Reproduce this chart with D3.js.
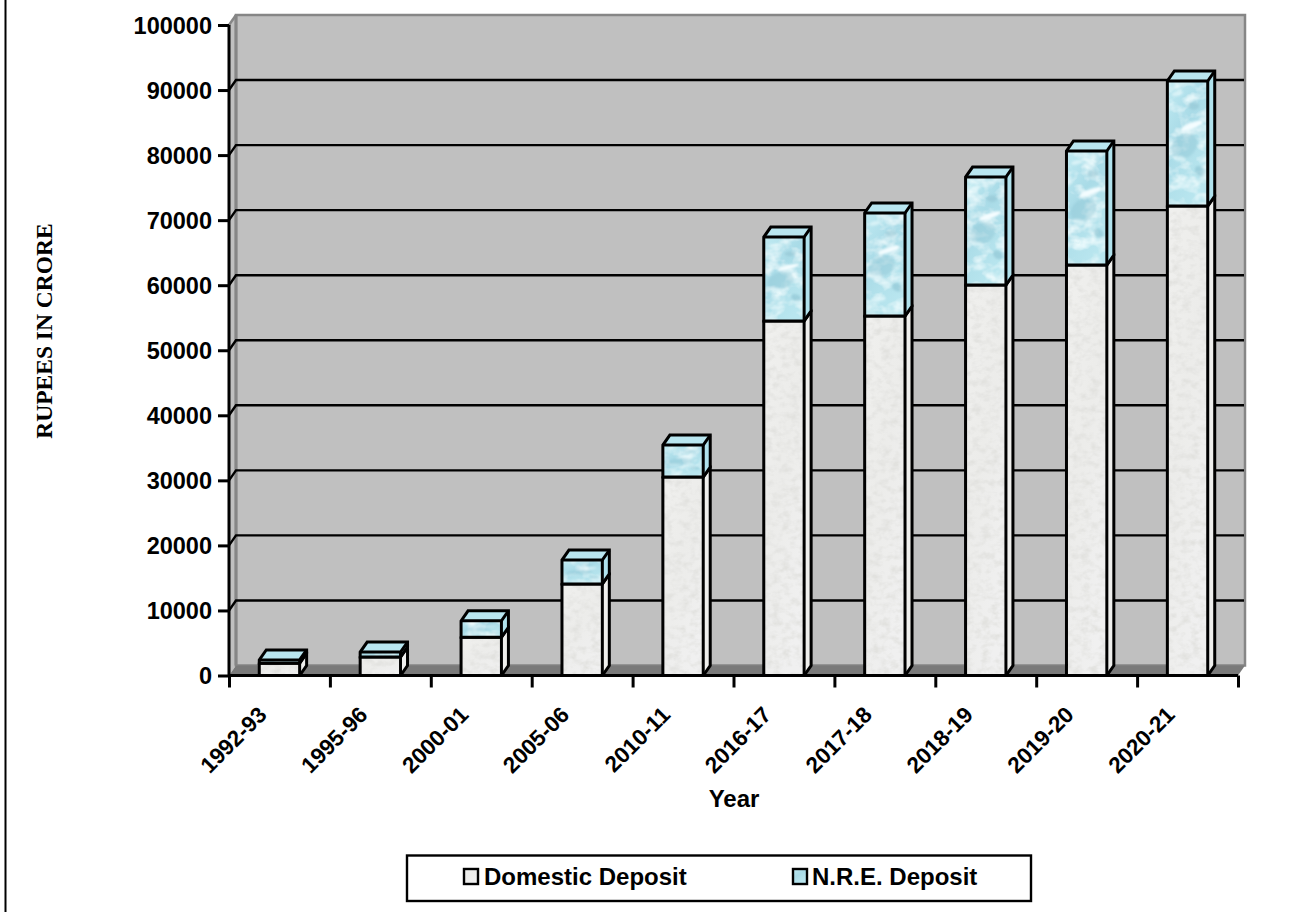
<!DOCTYPE html>
<html>
<head>
<meta charset="utf-8">
<script src="https://cdn.jsdelivr.net/npm/d3@7"></script>
<style>
  html, body { margin: 0; padding: 0; background: #fff; }
  svg { display: block; }
  text { font-family: "Liberation Sans", Arial, sans-serif; font-weight: bold; fill: #000; }
</style>
</head>
<body>
<svg id="chart" width="1307" height="912"></svg>
<script>
// Deposits in rupees crore, by financial year
const years = ["1992-93","1995-96","2000-01","2005-06","2010-11","2016-17","2017-18","2018-19","2019-20","2020-21"];
const domesticDeposit = [1900, 2850, 5870, 14070, 30500, 54500, 55260, 60030, 63100, 72170];
const nreDeposit = [500, 750, 2530, 3680, 4930, 12900, 15840, 16600, 17530, 19220];
const seriesNames = ["Domestic Deposit", "N.R.E. Deposit"];
const valueTicks = [0, 10000, 20000, 30000, 40000, 50000, 60000, 70000, 80000, 90000, 100000];
const yTitle = "RUPEES IN CRORE";
const xTitle = "Year";

const svg = d3.select("#chart");
const depthX = 7, depthY = 10;
const plot = { left: 229, right: 1238, top: 25, bottom: 675.5 };

const y = d3.scaleLinear().domain([0, 100000]).range([plot.bottom, plot.top]);
const x = d3.scaleBand().domain(years).range([plot.left, plot.right]).paddingInner(0.6).paddingOuter(0.3);
const slotEdge = d3.scaleLinear().domain([0, years.length]).range([plot.left, plot.right]);

// Bar face materials: soft stone and water droplets
const defs = svg.append("defs");

const grad = (id, stops) => {
  const g = defs.append("linearGradient").attr("id", id)
    .attr("x1", 0).attr("y1", 0).attr("x2", 0.6).attr("y2", 1);
  stops.forEach(([o, c]) => g.append("stop").attr("offset", o).attr("stop-color", c));
};
grad("stoneFace", [[0, "#f0f0ee"], [0.5, "#ececea"], [1, "#f0f0f0"]]);
grad("waterFace", [[0, "#c0eaf2"], [0.45, "#a9dbe7"], [0.7, "#b2e1eb"], [1, "#b9e6ef"]]);

const noise = (id, freq, seed, alpha, colour) => {
  const f = defs.append("filter").attr("id", id)
    .attr("x", 0).attr("y", 0).attr("width", 1).attr("height", 1);
  f.append("feTurbulence").attr("type", "fractalNoise").attr("baseFrequency", freq)
    .attr("numOctaves", 3).attr("seed", seed).attr("result", "n");
  f.append("feColorMatrix").attr("in", "n").attr("type", "matrix")
    .attr("values", `0 0 0 0 ${colour[0]} 0 0 0 0 ${colour[1]} 0 0 0 0 ${colour[2]} ${alpha} 0 0 0 ${-alpha * 0.42}`)
    .attr("result", "tint");
  f.append("feComposite").attr("in", "tint").attr("in2", "SourceGraphic").attr("operator", "in").attr("result", "clip");
  const m = f.append("feMerge");
  m.append("feMergeNode").attr("in", "SourceGraphic");
  m.append("feMergeNode").attr("in", "clip");
};
noise("stoneGrain", "0.11 0.15", 4, 2.6, [0.76, 0.76, 0.74]);
noise("waterGrain", "0.06 0.08", 9, 2.2, [0.88, 0.98, 0.99]);

defs.append("filter").attr("id", "dropSoften")
  .attr("x", 0).attr("y", 0).attr("width", 1).attr("height", 1)
  .append("feGaussianBlur").attr("stdDeviation", 0.9);

// Droplets are laid out in the bar's own unit box, so they stretch with the face
const drops = defs.append("pattern").attr("id", "waterDrops")
  .attr("patternUnits", "objectBoundingBox").attr("patternContentUnits", "objectBoundingBox")
  .attr("width", 1).attr("height", 1);
[[0.42, 0.52, 0.32, 0.10, -5, "#8cc2d2", 0.4],
 [0.60, 0.36, 0.27, 0.028, -7, "#f4fdff", 1],
 [0.65, 0.20, 0.14, 0.03, 0, "#8fc2d0", 0.5],
 [0.30, 0.62, 0.16, 0.02, 3, "#e6f8fb", 0.7],
 [0.80, 0.72, 0.12, 0.04, 6, "#84bccb", 0.5],
 [0.35, 0.84, 0.18, 0.02, -3, "#e6f8fb", 0.6],
 [0.25, 0.10, 0.14, 0.02, -4, "#e6f8fb", 0.7]
].forEach(([cx, cy, rx, ry, a, c, o]) => {
  drops.append("ellipse").attr("cx", cx).attr("cy", cy).attr("rx", rx).attr("ry", ry)
    .attr("fill", c).attr("opacity", o)
    .attr("transform", `rotate(${a} ${cx} ${cy})`);
});

// Chart walls and floor
const backTop = plot.top - depthY, backBottom = plot.bottom - depthY;
const walls = svg.append("g");
const polyline = (pts) => d3.line()(pts) + "Z";

walls.append("path")
  .attr("d", polyline([[plot.left, plot.top], [plot.left + depthX, backTop], [plot.left + depthX, backBottom], [plot.left, plot.bottom]]))
  .attr("fill", "#c0c0c0");
walls.append("rect")
  .attr("x", plot.left + depthX).attr("y", backTop)
  .attr("width", plot.right - plot.left).attr("height", backBottom - backTop)
  .attr("fill", "#c0c0c0").attr("stroke", "#868686").attr("stroke-width", 2.5);
walls.append("path")
  .attr("d", polyline([[plot.left, plot.bottom], [plot.left + depthX, backBottom], [plot.right + depthX, backBottom], [plot.right, plot.bottom]]))
  .attr("fill", "#7a7a7a");
walls.append("path")
  .attr("d", d3.line()([[plot.left + depthX, backTop], [plot.left + depthX, backBottom]]))
  .attr("stroke", "#868686").attr("stroke-width", 3);
walls.append("path")
  .attr("d", d3.line()([[plot.left, plot.top], [plot.left + depthX, backTop]]))
  .attr("stroke", "#868686").attr("stroke-width", 2.5);

// Gridlines run along the back wall and fold down the side wall
const grid = svg.append("g").attr("fill", "none").attr("stroke", "#000").attr("stroke-width", 2.4);
valueTicks.filter(v => v > 0 && v < 100000).forEach(v => {
  grid.append("path").attr("d", d3.line()([
    [plot.left, y(v)], [plot.left + depthX, y(v) - depthY], [plot.right + depthX - 1, y(v) - depthY]
  ]));
});

// Stacked 3D bars
const stacked = d3.stack().keys([0, 1]).value((d, k) => d[k])(years.map((_, i) => [domesticDeposit[i], nreDeposit[i]]));
const styles = [
  { face: "url(#stoneFace)", grain: "url(#stoneGrain)", top: "#efefed", side: "#efefed", overlay: null },
  { face: "url(#waterFace)", grain: "url(#waterGrain)", top: "#b9e6f0", side: "#b0e2ed", overlay: "url(#waterDrops)" }
];
const strokeWidth = 3;
const bars = svg.append("g");
years.forEach((yr, i) => {
  const bx = x(yr), bw = x.bandwidth();
  stacked.forEach((layer, s) => {
    const st = styles[s];
    const y0 = y(layer[i][0]), y1 = y(layer[i][1]);
    const g = bars.append("g");
    g.append("rect").attr("x", bx).attr("y", y1).attr("width", bw).attr("height", y0 - y1)
      .attr("fill", st.face).attr("filter", st.grain);
    if (st.overlay) {
      g.append("rect").attr("x", bx).attr("y", y1).attr("width", bw).attr("height", y0 - y1)
        .attr("fill", st.overlay).attr("filter", "url(#dropSoften)");
    }
    g.append("path")
      .attr("d", polyline([[bx + bw, y1], [bx + bw + depthX, y1 - depthY], [bx + bw + depthX, y0 - depthY], [bx + bw, y0]]))
      .attr("fill", st.side);
    g.append("path")
      .attr("d", polyline([[bx, y1], [bx + depthX, y1 - depthY], [bx + bw + depthX, y1 - depthY], [bx + bw, y1]]))
      .attr("fill", st.top);
    g.append("path")
      .attr("d", polyline([[bx, y0], [bx, y1], [bx + depthX, y1 - depthY], [bx + bw + depthX, y1 - depthY], [bx + bw + depthX, y0 - depthY], [bx + bw, y0]]))
      .attr("fill", "none").attr("stroke", "#000").attr("stroke-width", strokeWidth);
    g.append("path")
      .attr("d", d3.line()([[bx, y1], [bx + bw, y1], [bx + bw + depthX, y1 - depthY]]))
      .attr("fill", "none").attr("stroke", "#000").attr("stroke-width", strokeWidth);
    g.append("path")
      .attr("d", d3.line()([[bx + bw, y1], [bx + bw, y0]]))
      .attr("fill", "none").attr("stroke", "#000").attr("stroke-width", strokeWidth);
  });
});

// Axes
const yAxis = d3.axisLeft(y).tickValues(valueTicks).tickSize(11).tickPadding(6).tickFormat(d3.format("d"));
const gy = svg.append("g").attr("transform", `translate(${plot.left},0)`).call(yAxis);
gy.select(".domain").attr("stroke", "#000").attr("stroke-width", 3).attr("d", `M0,${plot.top}V${plot.bottom}`);
gy.selectAll(".tick line").attr("stroke", "#000").attr("stroke-width", 3);
gy.selectAll("text").style("font-size", "23.5px").attr("dy", "0.35em");

const edgeAxis = d3.axisBottom(slotEdge).tickValues(d3.range(years.length + 1)).tickSize(12).tickFormat("");
const gEdge = svg.append("g").attr("transform", `translate(0,${plot.bottom})`).call(edgeAxis);
gEdge.select(".domain").attr("stroke", "#000").attr("stroke-width", 3).attr("d", `M${plot.left},0H${plot.right}`);
gEdge.selectAll(".tick line").attr("stroke", "#000").attr("stroke-width", 3);

const labelAxis = d3.axisBottom(d3.scaleBand().domain(years).range([plot.left, plot.right])).tickSize(0).tickPadding(0);
const gx = svg.append("g").attr("transform", `translate(0,${plot.bottom})`).call(labelAxis);
gx.select(".domain").remove();
gx.selectAll("text")
  .style("font-size", "22.5px")
  .attr("text-anchor", "end").attr("dy", "0.35em").attr("x", -17).attr("y", 35)
  .attr("transform", "rotate(-45 -17 35)");

// Axis titles
svg.append("text").attr("x", 734).attr("y", 807).attr("text-anchor", "middle")
  .style("font-size", "24px").text(xTitle);
svg.append("text").attr("transform", "translate(52,331) rotate(-90)").attr("text-anchor", "middle")
  .style("font-family", '"Liberation Serif", "Times New Roman", serif').style("font-size", "23.5px")
  .text(yTitle);

// Frame edge on the left
svg.append("line").attr("x1", 5.5).attr("x2", 5.5).attr("y1", 0).attr("y2", 912)
  .attr("stroke", "#000").attr("stroke-width", 2);

// Legend
const legend = svg.append("g");
legend.append("rect").attr("x", 407).attr("y", 855.5).attr("width", 624).attr("height", 45.5)
  .attr("fill", "#fff").attr("stroke", "#000").attr("stroke-width", 2.4);
const legendBoxX = [464, 793];
const legendTextX = [484, 812];
seriesNames.forEach((name, s) => {
  legend.append("rect").attr("x", legendBoxX[s]).attr("y", 869).attr("width", 14).attr("height", 15)
    .attr("fill", styles[s].face).attr("stroke", "#000").attr("stroke-width", 2.4);
  legend.append("text").attr("x", legendTextX[s]).attr("y", 885).style("font-size", "24px").text(name);
});
</script>
</body>
</html>
